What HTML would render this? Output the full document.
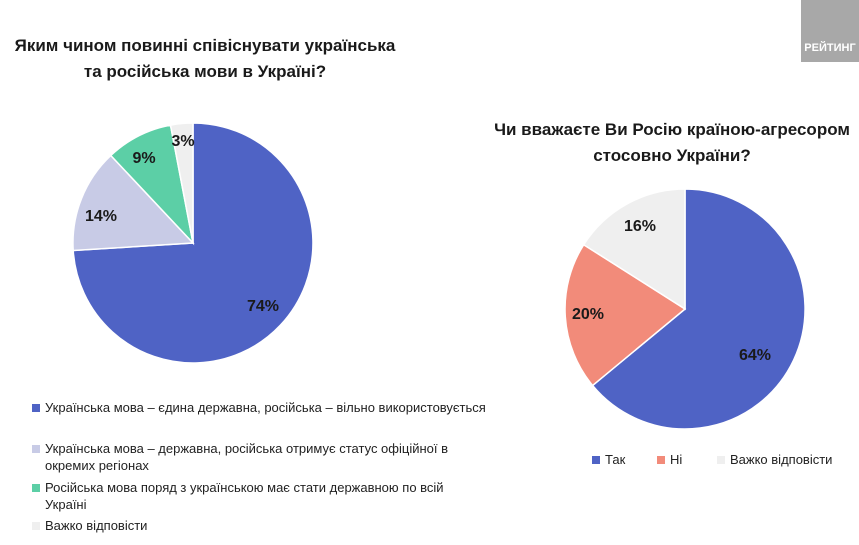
<!DOCTYPE html>
<html><head><meta charset="utf-8"><style>
body{margin:0;width:859px;height:545px;background:#fff;position:relative;overflow:hidden;font-family:"Liberation Sans",Arial,sans-serif;}
.t{position:absolute;font-weight:bold;font-size:17px;color:#1a1a1a;text-align:center;line-height:26px;}
.lg{position:absolute;font-size:13px;color:#222;line-height:17px;}
.hi{padding-left:13px;text-indent:-13px;}
.sq{display:inline-block;width:8px;height:8px;margin-right:5px;vertical-align:0px;text-indent:0;}
</style></head><body>
<div style="position:absolute;left:801px;top:0;width:58px;height:62px;background:#a8a8a8;"></div>
<div style="position:absolute;left:801px;top:42px;width:58px;text-align:center;color:#fff;font-weight:bold;font-size:11px;">РЕЙТИНГ</div>
<div class="t" style="left:0;width:410px;top:33px;">Яким чином повинні співіснувати українська<br>та російська мови в Україні?</div>
<div class="t" style="left:466px;width:412px;top:117px;">Чи вважаєте Ви Росію країною-агресором<br>стосовно України?</div>
<svg width="859" height="545" style="position:absolute;left:0;top:0">
<g stroke="#fff" stroke-width="1.5">
<path d="M193,243 L193,123 A120,120 0 1 1 73.2,250.5 Z" fill="#4f63c5"/>
<path d="M193,243 L73.2,250.5 A120,120 0 0 1 110.8,155.5 Z" fill="#c8cbe6"/>
<path d="M193,243 L110.8,155.5 A120,120 0 0 1 170.5,125.1 Z" fill="#5ccfa6"/>
<path d="M193,243 L170.5,125.1 A120,120 0 0 1 193,123 Z" fill="#efefef"/>
<path d="M685,309 L685,189 A120,120 0 1 1 592.6,385.5 Z" fill="#4f63c5"/>
<path d="M685,309 L592.6,385.5 A120,120 0 0 1 583.7,244.7 Z" fill="#f28b7a"/>
<path d="M685,309 L583.7,244.7 A120,120 0 0 1 685,189 Z" fill="#efefef"/>
</g>
<g font-family="Liberation Sans,Arial,sans-serif" font-weight="bold" font-size="16" fill="#1a1a1a" text-anchor="middle">
<text x="263" y="311">74%</text>
<text x="101" y="221">14%</text>
<text x="144" y="163">9%</text>
<text x="183" y="146">3%</text>
<text x="755" y="360">64%</text>
<text x="588" y="319">20%</text>
<text x="640" y="231">16%</text>
</g>
</svg>
<div class="lg" style="left:32px;top:399px;"><span class="sq" style="background:#4f63c5"></span>Українська мова – єдина державна, російська – вільно використовується</div>
<div class="lg hi" style="left:32px;top:440px;width:440px;"><span class="sq" style="background:#c8cbe6"></span>Українська мова – державна, російська отримує статус офіційної в<br>окремих регіонах</div>
<div class="lg hi" style="left:32px;top:479px;width:440px;"><span class="sq" style="background:#5ccfa6"></span>Російська мова поряд з українською має стати державною по всій<br>Україні</div>
<div class="lg" style="left:32px;top:517px;"><span class="sq" style="background:#efefef"></span>Важко відповісти</div>
<div class="lg" style="left:592px;top:451px;"><span class="sq" style="background:#4f63c5"></span>Так</div>
<div class="lg" style="left:657px;top:451px;"><span class="sq" style="background:#f28b7a"></span>Ні</div>
<div class="lg" style="left:717px;top:451px;"><span class="sq" style="background:#efefef"></span>Важко відповісти</div>
</body></html>
